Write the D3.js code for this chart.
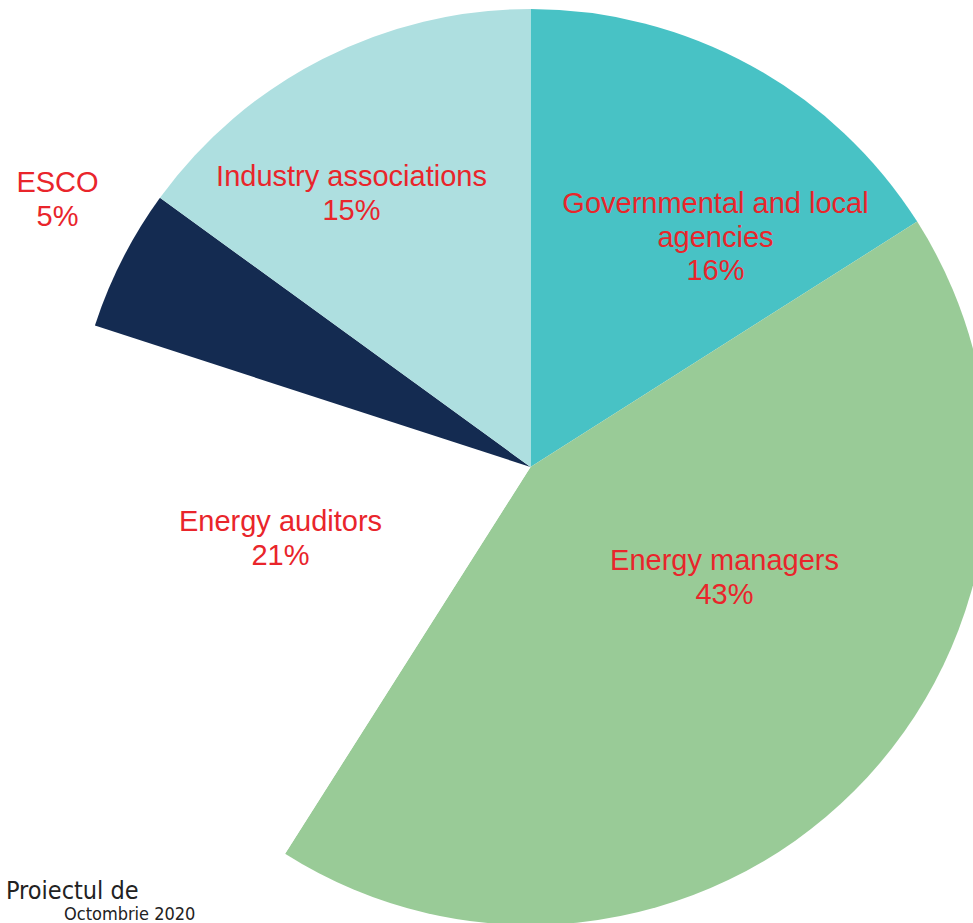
<!DOCTYPE html>
<meta charset="utf-8">
<head>
  <script src="https://d3js.org/d3.v7.min.js"></script>
  <style>
    body { margin: 0; background: #fff; }
    svg { display: block; }
  </style>
</head>
<body>
  <div id="my_dataviz"></div>
  <script>

    // data
    var categories = ["Governmental and local agencies", "Energy managers", "Energy auditors", "ESCO", "Industry associations"];
    var shares = [16, 43, 21, 5, 15];
    var colors = ["#48c2c5", "#99cb97", "#ffffff", "#142b51", "#aedfe0"];
    // label lines as drawn (wrapped)
    var labelLines = [
      ["Governmental and local", "agencies"],
      ["Energy managers"],
      ["Energy auditors"],
      ["ESCO"],
      ["Industry associations"]
    ];

    // layout
    var width = 973, height = 923;
    var cx = 530.5, cy = 467, radius = 458;
    // label anchor (first line) offsets from pie centre
    var labelOffsets = [[185, -264], [194, 93], [-250, 54], [-473, -285], [-179, -291]];
    var lineH = 33.5;

    var svg = d3.select("#my_dataviz")
      .append("svg")
      .attr("width", width)
      .attr("height", height);

    var g = svg.append("g")
      .attr("transform", "translate(" + cx + "," + cy + ")");

    var data = categories.map(function (c, i) { return { name: c, value: shares[i], i: i }; });

    var pie = d3.pie()
      .sort(null)
      .value(function (d) { return d.value; });

    var arc = d3.arc()
      .innerRadius(0)
      .outerRadius(radius);

    g.selectAll("path")
      .data(pie(data))
      .enter()
      .append("path")
      .attr("d", arc)
      .attr("fill", function (d) { return colors[d.data.i]; });

    // labels
    var labels = g.selectAll("text.lbl")
      .data(data)
      .enter()
      .append("text")
      .attr("class", "lbl")
      .attr("text-anchor", "middle")
      .attr("dominant-baseline", "central")
      .style("font-family", "Liberation Sans, Arial, sans-serif")
      .style("font-size", "29px")
      .style("fill", "#e9252b")
      .attr("transform", function (d) {
        var o = labelOffsets[d.i];
        return "translate(" + o[0] + "," + o[1] + ")";
      });

    labels.each(function (d) {
      var t = d3.select(this);
      var lines = labelLines[d.i].concat([d.value + "%"]);
      lines.forEach(function (l, k) {
        t.append("tspan")
          .attr("x", 0)
          .attr("y", k * lineH)
          .text(l);
      });
    });

    // footer text
    svg.append("text")
      .attr("x", 6)
      .attr("y", 899)
      .style("font-family", "DejaVu Sans Condensed, sans-serif")
      .style("font-size", "25px")
      .style("fill", "#222")
      .text("Proiectul de");

    svg.append("text")
      .attr("x", 64)
      .attr("y", 920)
      .style("font-family", "DejaVu Sans Condensed, sans-serif")
      .style("font-size", "18px")
      .style("fill", "#222")
      .text("Octombrie 2020");

  </script>
</body>
